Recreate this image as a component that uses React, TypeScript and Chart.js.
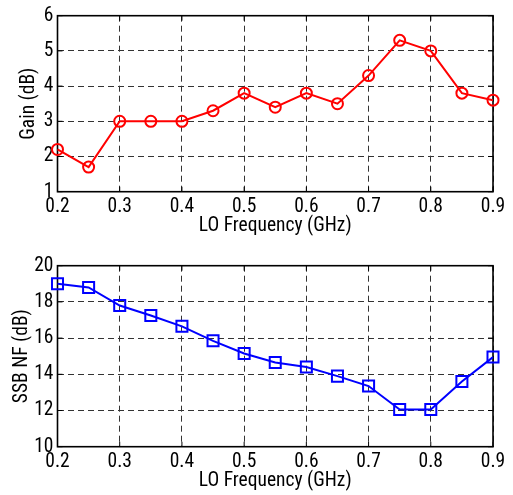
import React, { useEffect, useRef } from 'react';
import { Chart, registerables } from 'chart.js';

Chart.register(...registerables);

const freqs = [0.2, 0.25, 0.3, 0.35, 0.4, 0.45, 0.5, 0.55, 0.6, 0.65, 0.7, 0.75, 0.8, 0.85, 0.9];
const gainValues = [2.2, 1.7, 3.0, 3.0, 3.0, 3.3, 3.8, 3.4, 3.8, 3.5, 4.3, 5.3, 5.0, 3.8, 3.6];
const nfValues = [19.0, 18.8, 17.8, 17.25, 16.65, 15.85, 15.15, 14.65, 14.4, 13.9, 13.35, 12.05, 12.05, 13.6, 14.95];
const xTickValues = [0.2, 0.3, 0.4, 0.5, 0.6, 0.7, 0.8, 0.9];
const gainTickValues = [1, 2, 3, 4, 5, 6];
const nfTickValues = [10, 12, 14, 16, 18, 20];

const FONT_FAMILY = "'Roboto Condensed', Roboto, sans-serif";

const framePlugin = {
  id: 'matlabFrame',
  beforeDatasetsDraw(chart: any) {
    const { ctx, chartArea } = chart;
    const { left, right, top, bottom } = chartArea;
    const xs = chart.scales.x;
    const ys = chart.scales.y;
    ctx.save();
    ctx.strokeStyle = '#000';
    ctx.lineWidth = 1;
    const tl = 5;
    ctx.beginPath();
    xs.ticks.forEach((t: any) => {
      const px = xs.getPixelForValue(t.value);
      ctx.moveTo(px, bottom);
      ctx.lineTo(px, bottom - tl);
      ctx.moveTo(px, top);
      ctx.lineTo(px, top + tl);
    });
    ys.ticks.forEach((t: any) => {
      const py = ys.getPixelForValue(t.value);
      ctx.moveTo(left, py);
      ctx.lineTo(left + tl, py);
      ctx.moveTo(right, py);
      ctx.lineTo(right - tl, py);
    });
    ctx.stroke();
    ctx.lineWidth = 1.6;
    ctx.strokeRect(left, top, right - left, bottom - top);
    ctx.restore();
  },
};

type PanelProps = {
  width: number;
  height: number;
  values: number[];
  color: string;
  pointStyle: string;
  pointRadius: number;
  yMin: number;
  yMax: number;
  yTicks: number[];
  yTitle: string;
  yTitlePad: number;
  padTop: number;
  padBottom: number;
  xAxisHeight: number;
  xTitlePad: number;
};

function Panel(p: PanelProps) {
  const ref = useRef<HTMLCanvasElement | null>(null);
  useEffect(() => {
    if (!ref.current) return;
    const font = { family: FONT_FAMILY, size: 19.5, weight: 'condensed' as any };
    const chart = new Chart(ref.current, {
      type: 'line',
      data: {
        datasets: [
          {
            data: freqs.map((f, i) => ({ x: f, y: p.values[i] })),
            borderColor: p.color,
            backgroundColor: 'rgba(0,0,0,0)',
            borderWidth: 2,
            pointStyle: p.pointStyle as any,
            pointRadius: p.pointRadius,
            pointBorderWidth: 2,
            pointBorderColor: p.color,
            pointBackgroundColor: 'rgba(0,0,0,0)',
            tension: 0,
            clip: false as any,
          },
        ],
      },
      options: {
        animation: false,
        responsive: false,
        events: [],
        layout: { padding: { top: p.padTop, right: 20, bottom: p.padBottom, left: 0 } },
        plugins: { legend: { display: false }, tooltip: { enabled: false } },
        scales: {
          x: {
            type: 'linear',
            min: 0.2,
            max: 0.9,
            afterBuildTicks: (s: any) => {
              s.ticks = xTickValues.map((v) => ({ value: v }));
            },
            afterFit: (s: any) => {
              s.height = p.xAxisHeight;
            },
            ticks: {
              font,
              color: '#000',
              padding: 4,
              maxRotation: 0,
              autoSkip: false,
              callback: (v: any) => Number(v).toFixed(1),
            },
            grid: { color: '#333', lineWidth: 1, drawTicks: false },
            border: { display: false, dash: [6, 4] },
            title: {
              display: true,
              text: 'LO Frequency (GHz)',
              font,
              color: '#000',
              padding: { top: 0, bottom: p.xTitlePad },
            },
          },
          y: {
            type: 'linear',
            min: p.yMin,
            max: p.yMax,
            afterBuildTicks: (s: any) => {
              s.ticks = p.yTicks.map((v) => ({ value: v }));
            },
            afterFit: (s: any) => {
              s.width = 57.5;
            },
            ticks: { font, color: '#000', padding: 4, autoSkip: false },
            grid: { color: '#333', lineWidth: 1, drawTicks: false },
            border: { display: false, dash: [6, 4] },
            title: {
              display: true,
              text: p.yTitle,
              font,
              color: '#000',
              padding: { top: p.yTitlePad, bottom: 0 },
            },
          },
        },
      },
      plugins: [framePlugin],
    });
    return () => chart.destroy();
  }, []);
  return (
    <canvas
      ref={ref}
      width={p.width}
      height={p.height}
      style={{ display: 'block', width: p.width, height: p.height }}
    />
  );
}

export default function App() {
  return (
    <div style={{ position: 'fixed', left: 0, top: 0, width: 513, height: 495, background: '#fff' }}>
      <Panel
        width={513}
        height={250}
        values={gainValues}
        color="#ff0000"
        pointStyle="circle"
        pointRadius={5.5}
        yMin={1}
        yMax={6}
        yTicks={gainTickValues}
        yTitle="Gain (dB)"
        yTitlePad={17.6}
        padTop={15.7}
        padBottom={8.3}
        xAxisHeight={50}
        xTitlePad={4.3}
      />
      <Panel
        width={513}
        height={245}
        values={nfValues}
        color="#0000ff"
        pointStyle="rect"
        pointRadius={7.8}
        yMin={10}
        yMax={20}
        yTicks={nfTickValues}
        yTitle="SSB NF (dB)"
        yTitlePad={10.3}
        padTop={15.7}
        padBottom={0}
        xAxisHeight={48.3}
        xTitlePad={2.6}
      />
    </div>
  );
}
